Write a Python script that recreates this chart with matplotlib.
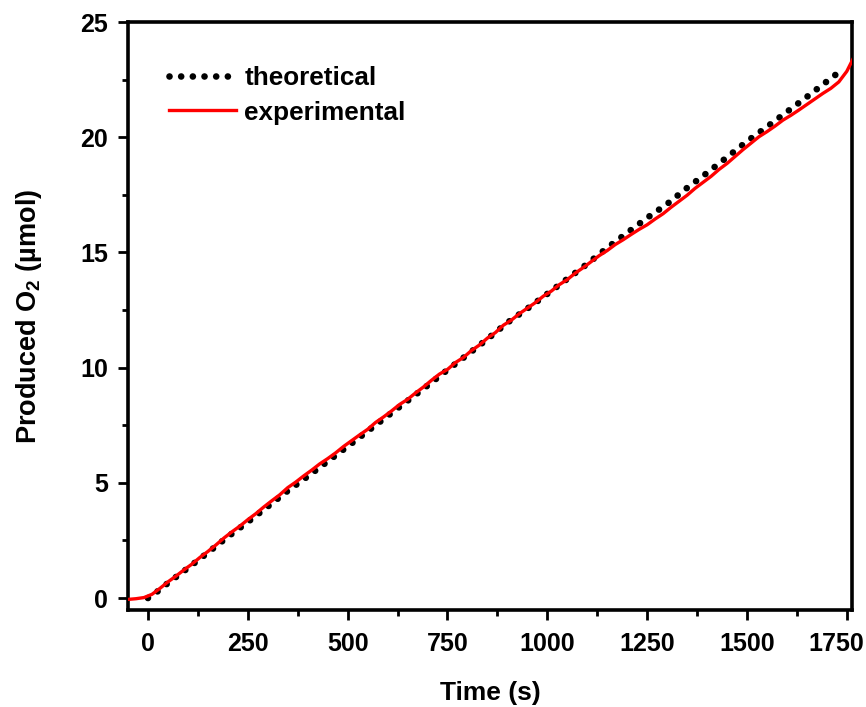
import numpy as np
import matplotlib
matplotlib.use("Agg")
import matplotlib.pyplot as plt
from matplotlib.transforms import ScaledTranslation

plt.rcParams['font.family'] = ['Liberation Sans', 'DejaVu Sans']
plt.rcParams['font.weight'] = 'bold'
plt.rcParams['mathtext.fontset'] = 'custom'
plt.rcParams['mathtext.rm'] = 'Liberation Sans:bold'
plt.rcParams['mathtext.it'] = 'Liberation Sans:bold'
plt.rcParams['mathtext.bf'] = 'Liberation Sans:bold'

# Theoretical O2 (µmol) vs time (s)
theo_t = [0, 25, 50, 100, 150, 200, 250, 300, 350, 400, 450, 500, 600, 700, 750,
          800, 850, 900, 950, 1000, 1050, 1100, 1150, 1200, 1250, 1300, 1350, 1400,
          1450, 1500, 1550, 1600, 1650, 1700, 1740]
theo_y = [0.0, 0.3, 0.65, 1.3, 1.97, 2.66, 3.3, 3.97, 4.65, 5.28, 5.93, 6.58, 7.9, 9.22, 9.9,
          10.56, 11.24, 11.95, 12.56, 13.2, 13.85, 14.5, 15.2, 15.85, 16.5, 17.1, 17.8, 18.45,
          19.13, 19.82, 20.45, 21.1, 21.75, 22.42, 22.95]

# Experimental O2 (µmol) vs time (s)
exp_t = [-50, -30, -10, 10, 30, 50, 70, 90, 110, 130, 150, 170, 190, 210, 230, 250,
         270, 290, 310, 330, 350, 370, 390, 410, 430, 450, 470, 490, 510, 530, 550,
         570, 590, 610, 630, 650, 670, 690, 710, 730, 750, 770, 790, 810, 830, 850,
         870, 890, 910, 930, 950, 970, 990, 1010, 1030, 1050, 1070, 1090, 1110, 1130,
         1150, 1170, 1190, 1210, 1230, 1250, 1270, 1290, 1310, 1330, 1350, 1370, 1390,
         1410, 1430, 1450, 1470, 1490, 1510, 1530, 1550, 1570, 1590, 1610, 1630, 1650,
         1670, 1690, 1710, 1730, 1750, 1770]
exp_y = [-0.06, -0.03, 0.02, 0.16, 0.42, 0.70, 0.95, 1.22, 1.47, 1.76, 2.02, 2.30, 2.60,
         2.87, 3.12, 3.40, 3.66, 3.95, 4.22, 4.48, 4.79, 5.03, 5.30, 5.55, 5.82, 6.05,
         6.30, 6.58, 6.83, 7.08, 7.32, 7.62, 7.86, 8.12, 8.40, 8.62, 8.90, 9.16, 9.45,
         9.72, 9.92, 10.22, 10.44, 10.74, 10.98, 11.28, 11.52, 11.84, 12.06, 12.34,
         12.58, 12.82, 13.10, 13.32, 13.60, 13.82, 14.10, 14.34, 14.60, 14.86, 15.08,
         15.34, 15.55, 15.78, 16.00, 16.20, 16.45, 16.68, 16.96, 17.22, 17.48, 17.78,
         18.04, 18.30, 18.60, 18.86, 19.16, 19.46, 19.74, 20.02, 20.24, 20.48, 20.74,
         20.95, 21.18, 21.42, 21.66, 21.90, 22.12, 22.40, 22.86, 23.55]

x_ticks = [0, 250, 500, 750, 1000, 1250, 1500, 1750]
y_ticks = [0, 5, 10, 15, 20, 25]

fig = plt.figure(figsize=(8.66, 7.07), dpi=100)
ax = fig.add_axes([128/866, 1-610/707, 724/866, 588/707])

ax.plot(theo_t, theo_y, color='black', lw=4.8, linestyle=(0, (0.001, 1.75)),
        dash_capstyle='round', label='theoretical', zorder=2)
ax.plot(exp_t, exp_y, color='#ff0000', lw=2.4, label='experimental', zorder=3)

ax.set_xlim(-50, 1763)
ax.set_ylim(-0.52, 25)
ax.set_xticks(x_ticks)
ax.set_yticks(y_ticks)
ax.set_xticks([125, 375, 625, 875, 1125, 1375, 1625], minor=True)
ax.set_yticks([2.5, 7.5, 12.5, 17.5, 22.5], minor=True)

for s in ax.spines.values():
    s.set_linewidth(2.6)
ax.tick_params(axis='both', which='major', direction='out', length=7.5, width=2.0,
               labelsize=18, top=False, right=False)
ax.tick_params(axis='x', which='major', pad=8)
ax.tick_params(axis='y', which='major', pad=7)
ax.tick_params(axis='both', which='minor', direction='out', length=4.5, width=2.0,
               top=False, right=False)
for lab in ax.get_xticklabels() + ax.get_yticklabels():
    lab.set_fontweight('bold')

# keep the last x tick label inside the figure, as in the reference
last = ax.get_xticklabels()[-1]
last.set_transform(last.get_transform() + ScaledTranslation(-11/100, 0, fig.dpi_scale_trans))

ax.set_xlabel('Time (s)', fontsize=19, fontweight='bold', labelpad=18)
ax.set_ylabel('Produced O$_{2}$ (\u00b5mol)', fontsize=19.5, fontweight='bold', labelpad=26)

leg = ax.legend(loc='upper left', bbox_to_anchor=(0.056, 0.925), frameon=False,
                fontsize=18.8, handlelength=2.6, handletextpad=0.3, labelspacing=0.4,
                borderpad=0, borderaxespad=0)

fig.savefig('out.png', dpi=100)
